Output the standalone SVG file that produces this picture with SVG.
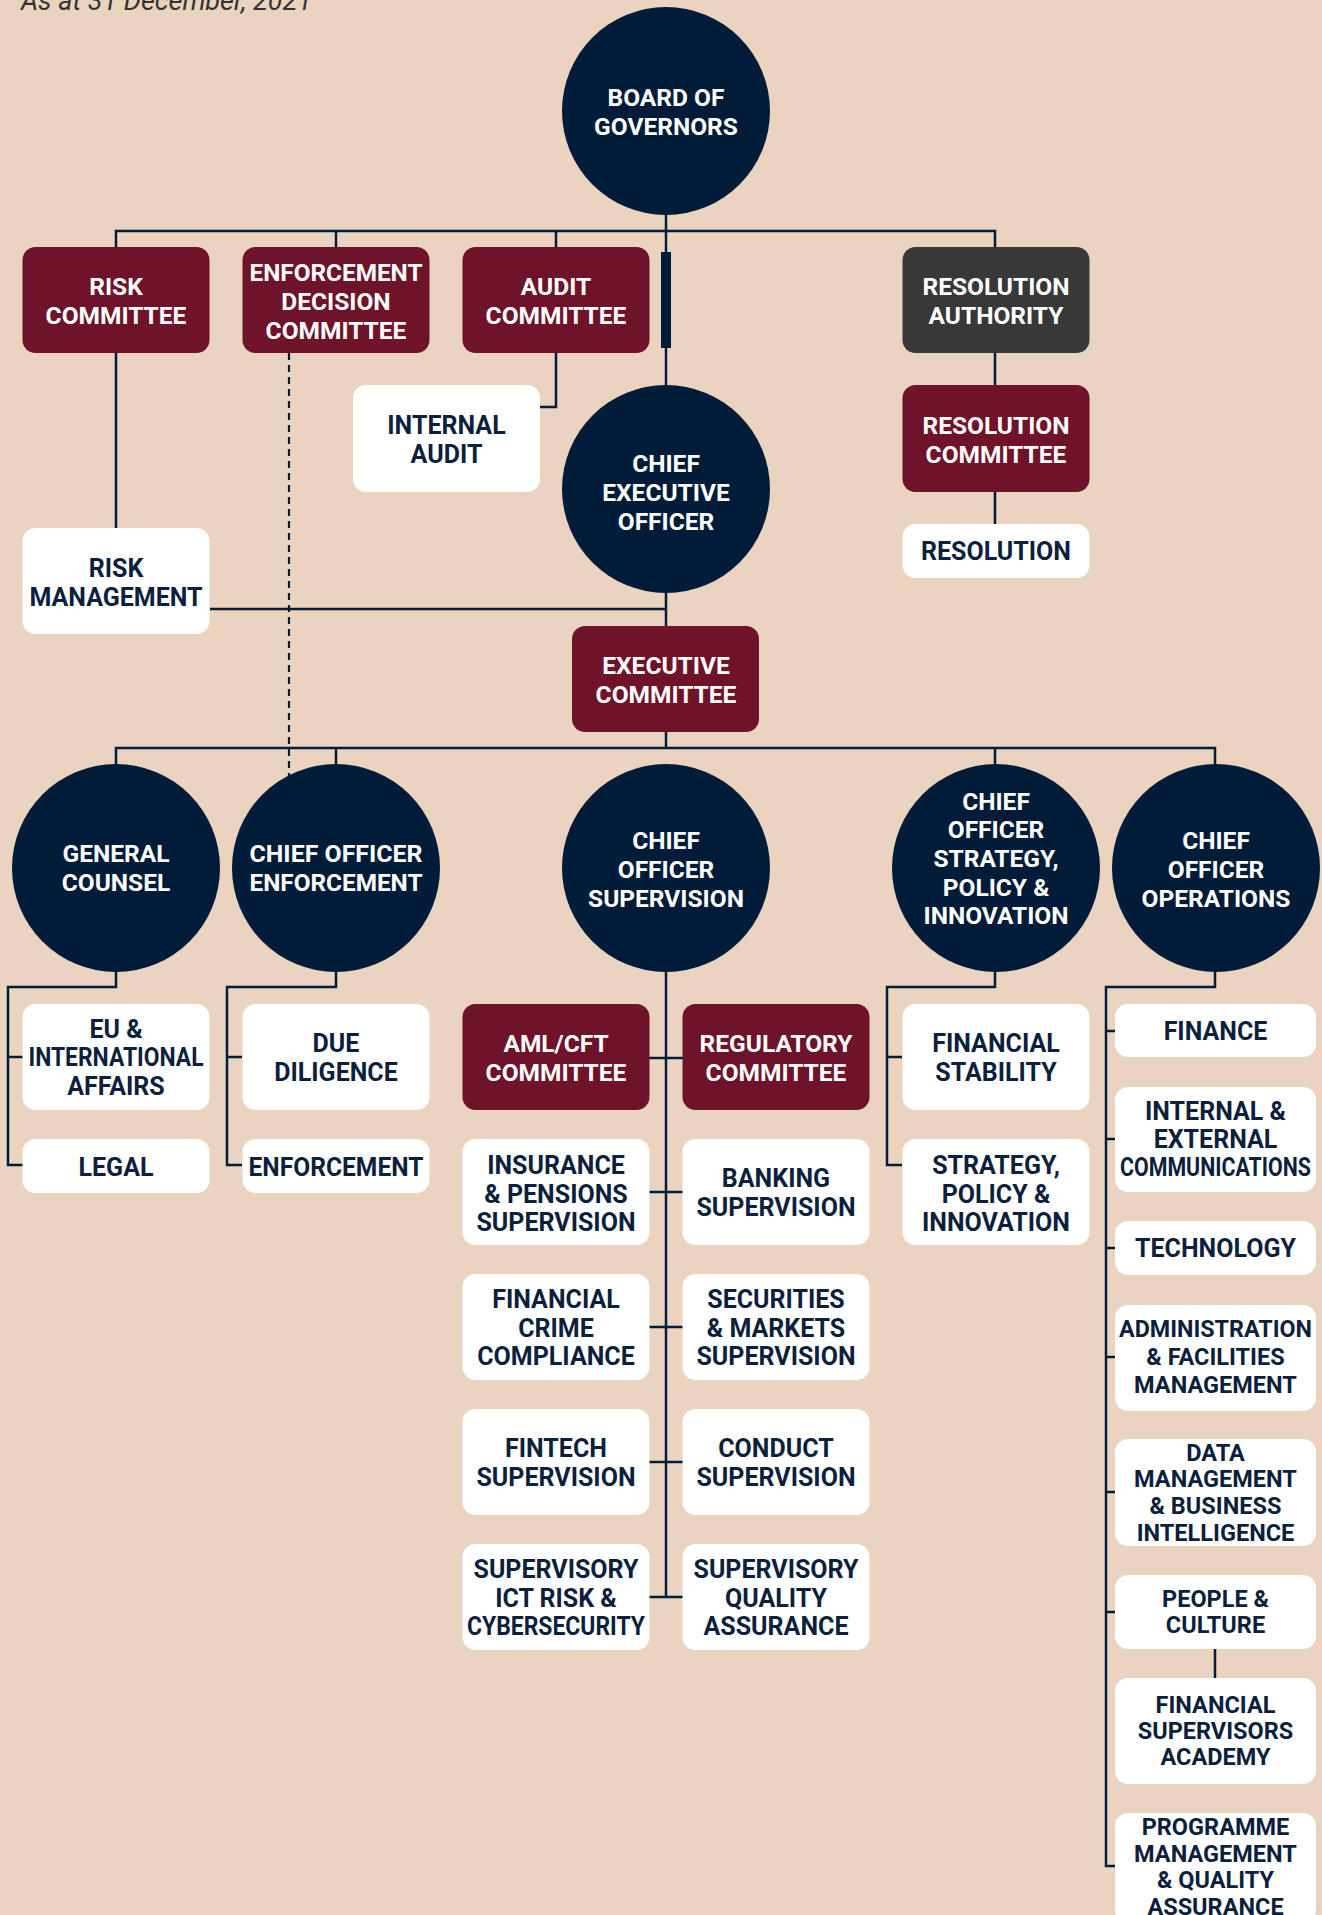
<svg xmlns="http://www.w3.org/2000/svg" width="1322" height="1915" viewBox="0 0 1322 1915">
<style>
.bg{fill:#ead4c0}
.c{fill:#011c38}
.m{fill:#6e132a}
.g{fill:#383838}
.wb{fill:#ffffff}
.ln{fill:none;stroke:#011c38;stroke-width:2.5}
.dash{fill:none;stroke:#011c38;stroke-width:2.2;stroke-dasharray:7 5}
text{font-family:Roboto,"Liberation Sans",sans-serif;text-anchor:middle}
.w{fill:#ffffff;font-weight:700;font-size:24.5px}
.d{fill:#0c1f3d;font-weight:700;font-size:25px}
.s{font-size:23.5px}
.title{fill:#333333;font-style:italic;font-size:27px;text-anchor:start}
</style>
<rect class="bg" x="0" y="0" width="1322" height="1915"/>
<text class="title" x="21" y="9.5">As at 31 December, 2021</text>

<g id="connectors">
<path class="ln" d="M116,247 V231 H995 V247 M336,231 V247 M556,231 V247 M666,215 V385"/>
<rect class="c" x="661" y="252" width="10" height="96"/>
<path class="ln" d="M116,353 V528 M210,609 H666"/>
<path class="dash" d="M289,353 V780"/>
<path class="ln" d="M556,353 V407 H540"/>
<path class="ln" d="M995,353 V385 M995,492 V524"/>
<path class="ln" d="M666,593 V626 M666,732 V748 M116,764 V748 H1215 V764 M336,748 V764 M995,748 V764"/>
<path class="ln" d="M116,972 V987 H8 V1165 H23 M8,1057 H23"/>
<path class="ln" d="M336,972 V987 H227 V1165 H242 M227,1057 H242"/>
<path class="ln" d="M666,972 V1597 M649,1058 H683 M649,1192 H683 M649,1327 H683 M649,1462 H683 M649,1597 H683"/>
<path class="ln" d="M995,972 V987 H887 V1165 H902 M887,1057 H902"/>
<path class="ln" d="M1215,972 V987 H1106 V1866 H1115 M1106,1031 H1115 M1106,1139 H1115 M1106,1248 H1115 M1106,1357 H1115 M1106,1492 H1115 M1106,1612 H1115 M1215,1649 V1678"/>
</g>

<g id="board"><circle class="c" cx="666" cy="111" r="104"/><text class="w" x="666" y="106">BOARD OF<tspan x="666" dy="29">GOVERNORS</tspan></text></g>
<g id="risk-committee"><rect class="m" x="22.5" y="247" width="187" height="106" rx="13"/><text class="w" x="116" y="295">RISK<tspan x="116" dy="29">COMMITTEE</tspan></text></g>
<g id="enforcement-decision-committee"><rect class="m" x="242.5" y="247" width="187" height="106" rx="13"/><text class="w" x="336" y="281"><tspan x="336" textLength="173" lengthAdjust="spacingAndGlyphs">ENFORCEMENT</tspan><tspan x="336" dy="29">DECISION</tspan><tspan x="336" dy="29">COMMITTEE</tspan></text></g>
<g id="audit-committee"><rect class="m" x="462.5" y="247" width="187" height="106" rx="13"/><text class="w" x="556" y="295">AUDIT<tspan x="556" dy="29">COMMITTEE</tspan></text></g>
<g id="resolution-authority"><rect class="g" x="902.5" y="247" width="187" height="106" rx="13"/><text class="w" x="996" y="295">RESOLUTION<tspan x="996" dy="29">AUTHORITY</tspan></text></g>
<g id="internal-audit"><rect class="wb" x="353" y="385" width="187" height="107" rx="13"/><text class="d" x="446.5" y="434">INTERNAL<tspan x="446.5" dy="29">AUDIT</tspan></text></g>
<g id="ceo"><circle class="c" cx="666" cy="489" r="104"/><text class="w" x="666" y="471.5">CHIEF<tspan x="666" dy="29">EXECUTIVE</tspan><tspan x="666" dy="29">OFFICER</tspan></text></g>
<g id="resolution-committee"><rect class="m" x="902.5" y="385" width="187" height="107" rx="13"/><text class="w" x="996" y="434">RESOLUTION<tspan x="996" dy="29">COMMITTEE</tspan></text></g>
<g id="resolution"><rect class="wb" x="902.5" y="524" width="187" height="54" rx="13"/><text class="d" x="996" y="560">RESOLUTION</text></g>
<g id="risk-management"><rect class="wb" x="22.5" y="528" width="187" height="106" rx="13"/><text class="d" x="116" y="576.5">RISK<tspan x="116" dy="29">MANAGEMENT</tspan></text></g>
<g id="executive-committee"><rect class="m" x="572" y="626" width="187" height="106" rx="13"/><text class="w" x="666" y="674">EXECUTIVE<tspan x="666" dy="29">COMMITTEE</tspan></text></g>

<g id="general-counsel"><circle class="c" cx="116" cy="868" r="104"/><text class="w" x="116" y="862">GENERAL<tspan x="116" dy="29">COUNSEL</tspan></text></g>
<g id="chief-officer-enforcement"><circle class="c" cx="336" cy="868" r="104"/><text class="w" x="336" y="862"><tspan x="336" textLength="173" lengthAdjust="spacingAndGlyphs">CHIEF OFFICER</tspan><tspan x="336" dy="29" textLength="173" lengthAdjust="spacingAndGlyphs">ENFORCEMENT</tspan></text></g>
<g id="chief-officer-supervision"><circle class="c" cx="666" cy="868" r="104"/><text class="w" x="666" y="849">CHIEF<tspan x="666" dy="29">OFFICER</tspan><tspan x="666" dy="29">SUPERVISION</tspan></text></g>
<g id="chief-officer-strategy"><circle class="c" cx="996" cy="868" r="104"/><text class="w" x="996" y="809.5">CHIEF<tspan x="996" dy="28.7">OFFICER</tspan><tspan x="996" dy="28.7">STRATEGY,</tspan><tspan x="996" dy="28.7">POLICY &amp;</tspan><tspan x="996" dy="28.7">INNOVATION</tspan></text></g>
<g id="chief-officer-operations"><circle class="c" cx="1216" cy="868" r="104"/><text class="w" x="1216" y="849">CHIEF<tspan x="1216" dy="29">OFFICER</tspan><tspan x="1216" dy="29">OPERATIONS</tspan></text></g>

<g id="eu-international-affairs"><rect class="wb" x="22.5" y="1004" width="187" height="106" rx="13"/><text class="d" x="116" y="1037.5">EU &amp;<tspan x="116" dy="28.7" textLength="175" lengthAdjust="spacingAndGlyphs">INTERNATIONAL</tspan><tspan x="116" dy="28.7">AFFAIRS</tspan></text></g>
<g id="legal"><rect class="wb" x="22.5" y="1139" width="187" height="54" rx="13"/><text class="d" x="116" y="1175.5">LEGAL</text></g>
<g id="due-diligence"><rect class="wb" x="242.5" y="1004" width="187" height="106" rx="13"/><text class="d" x="336" y="1052">DUE<tspan x="336" dy="28.5">DILIGENCE</tspan></text></g>
<g id="enforcement"><rect class="wb" x="242.5" y="1139" width="187" height="54" rx="13"/><text class="d" x="336" y="1175.5" textLength="175" lengthAdjust="spacingAndGlyphs">ENFORCEMENT</text></g>

<g id="aml-cft-committee"><rect class="m" x="462.5" y="1004" width="187" height="106" rx="13"/><text class="w" x="556" y="1052">AML/CFT<tspan x="556" dy="28.5">COMMITTEE</tspan></text></g>
<g id="regulatory-committee"><rect class="m" x="682.5" y="1004" width="187" height="106" rx="13"/><text class="w" x="776" y="1052">REGULATORY<tspan x="776" dy="28.5">COMMITTEE</tspan></text></g>
<g id="insurance-pensions"><rect class="wb" x="462.5" y="1139" width="187" height="106" rx="13"/><text class="d" x="556" y="1174">INSURANCE<tspan x="556" dy="28.7">&amp; PENSIONS</tspan><tspan x="556" dy="28.7">SUPERVISION</tspan></text></g>
<g id="banking-supervision"><rect class="wb" x="682.5" y="1139" width="187" height="106" rx="13"/><text class="d" x="776" y="1187">BANKING<tspan x="776" dy="28.7">SUPERVISION</tspan></text></g>
<g id="financial-crime-compliance"><rect class="wb" x="462.5" y="1274" width="187" height="106" rx="13"/><text class="d" x="556" y="1308">FINANCIAL<tspan x="556" dy="28.7">CRIME</tspan><tspan x="556" dy="28.7">COMPLIANCE</tspan></text></g>
<g id="securities-markets"><rect class="wb" x="682.5" y="1274" width="187" height="106" rx="13"/><text class="d" x="776" y="1308">SECURITIES<tspan x="776" dy="28.7">&amp; MARKETS</tspan><tspan x="776" dy="28.7">SUPERVISION</tspan></text></g>
<g id="fintech-supervision"><rect class="wb" x="462.5" y="1409" width="187" height="106" rx="13"/><text class="d" x="556" y="1457">FINTECH<tspan x="556" dy="28.7">SUPERVISION</tspan></text></g>
<g id="conduct-supervision"><rect class="wb" x="682.5" y="1409" width="187" height="106" rx="13"/><text class="d" x="776" y="1457">CONDUCT<tspan x="776" dy="28.7">SUPERVISION</tspan></text></g>
<g id="supervisory-ict-risk"><rect class="wb" x="462.5" y="1544" width="187" height="106" rx="13"/><text class="d" x="556" y="1578">SUPERVISORY<tspan x="556" dy="28.7">ICT RISK &amp;</tspan><tspan x="556" dy="28.7" textLength="178" lengthAdjust="spacingAndGlyphs">CYBERSECURITY</tspan></text></g>
<g id="supervisory-quality-assurance"><rect class="wb" x="682.5" y="1544" width="187" height="106" rx="13"/><text class="d" x="776" y="1578">SUPERVISORY<tspan x="776" dy="28.7">QUALITY</tspan><tspan x="776" dy="28.7">ASSURANCE</tspan></text></g>

<g id="financial-stability"><rect class="wb" x="902.5" y="1004" width="187" height="106" rx="13"/><text class="d" x="996" y="1052">FINANCIAL<tspan x="996" dy="28.5">STABILITY</tspan></text></g>
<g id="strategy-policy-innovation"><rect class="wb" x="902.5" y="1139" width="187" height="106" rx="13"/><text class="d" x="996" y="1174">STRATEGY,<tspan x="996" dy="28.7">POLICY &amp;</tspan><tspan x="996" dy="28.7">INNOVATION</tspan></text></g>

<g id="finance"><rect class="wb" x="1115" y="1004" width="201" height="53" rx="13"/><text class="d" x="1215.5" y="1039.5">FINANCE</text></g>
<g id="internal-external-communications"><rect class="wb" x="1115" y="1087" width="201" height="105" rx="13"/><text class="d" x="1215.5" y="1120">INTERNAL &amp;<tspan x="1215.5" dy="27.8">EXTERNAL</tspan><tspan x="1215.5" dy="27.8" textLength="191" lengthAdjust="spacingAndGlyphs">COMMUNICATIONS</tspan></text></g>
<g id="technology"><rect class="wb" x="1115" y="1221" width="201" height="54" rx="13"/><text class="d" x="1215.5" y="1257">TECHNOLOGY</text></g>
<g id="administration-facilities"><rect class="wb" x="1115" y="1305" width="201" height="106" rx="13"/><text class="d s" x="1215.5" y="1337.4"><tspan x="1215.5" textLength="193" lengthAdjust="spacingAndGlyphs">ADMINISTRATION</tspan><tspan x="1215.5" dy="27.8">&amp; FACILITIES</tspan><tspan x="1215.5" dy="27.8">MANAGEMENT</tspan></text></g>
<g id="data-management"><rect class="wb" x="1115" y="1439" width="201" height="107" rx="13"/><text class="d s" x="1215.5" y="1460.6">DATA<tspan x="1215.5" dy="26.8">MANAGEMENT</tspan><tspan x="1215.5" dy="26.8">&amp; BUSINESS</tspan><tspan x="1215.5" dy="26.8">INTELLIGENCE</tspan></text></g>
<g id="people-culture"><rect class="wb" x="1115" y="1575" width="201" height="74" rx="13"/><text class="d s" x="1215.5" y="1607.4">PEOPLE &amp;<tspan x="1215.5" dy="26">CULTURE</tspan></text></g>
<g id="financial-supervisors-academy"><rect class="wb" x="1115" y="1678" width="201" height="106" rx="13"/><text class="d s" x="1215.5" y="1713.4">FINANCIAL<tspan x="1215.5" dy="26">SUPERVISORS</tspan><tspan x="1215.5" dy="26">ACADEMY</tspan></text></g>
<g id="programme-management"><rect class="wb" x="1115" y="1813" width="201" height="110" rx="13"/><text class="d s" x="1215.5" y="1835.4">PROGRAMME<tspan x="1215.5" dy="26.4">MANAGEMENT</tspan><tspan x="1215.5" dy="26.4">&amp; QUALITY</tspan><tspan x="1215.5" dy="26.4">ASSURANCE</tspan></text></g>
</svg>
